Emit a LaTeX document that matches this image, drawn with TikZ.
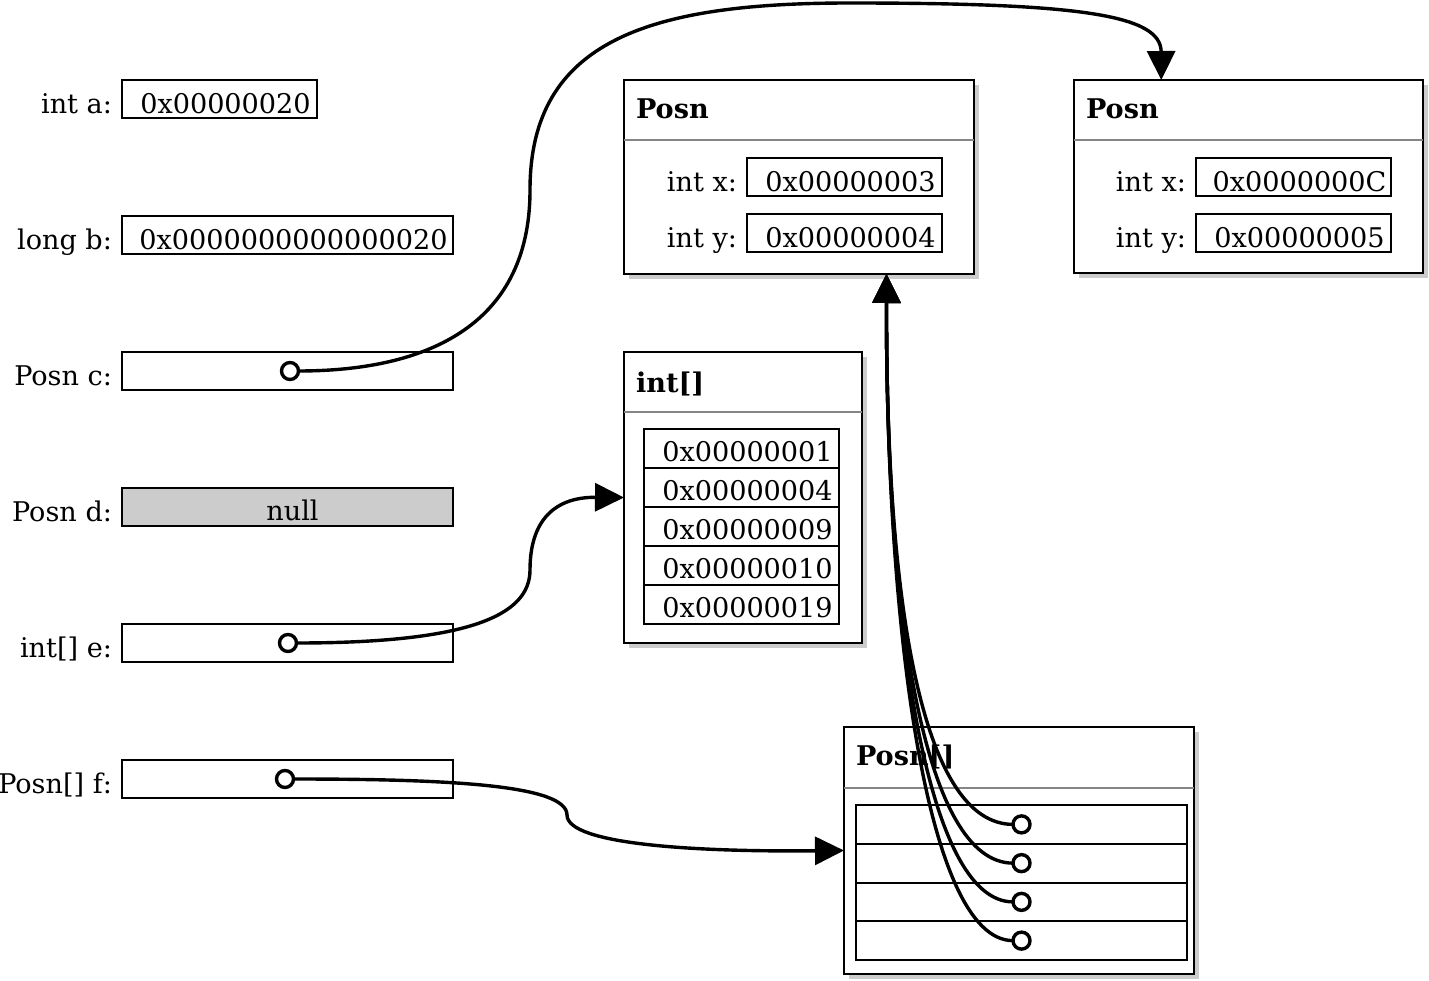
\documentclass[tikz,border=0pt]{standalone}
\usepackage{fontspec}
\setmainfont{DejaVu Serif}
\usetikzlibrary{arrows.meta,shadows,calc}
\definecolor{sepgray}{HTML}{858585}
\definecolor{shgray}{HTML}{CCCCCC}
\definecolor{nullgray}{HTML}{CCCCCC}
\begin{document}
\begin{tikzpicture}[x=1pt,y=-1pt,
  every node/.style={inner sep=0pt, outer sep=0pt, font=\fontsize{27.1}{32}\selectfont},
  box/.style={draw, line width=2pt, anchor=north west, minimum height=38pt},
  obj/.style={draw, line width=2pt, fill=white, anchor=north west,
    drop shadow={shadow xshift=5pt, shadow yshift=-5pt, fill=shgray, opacity=1}},
  sepline/.style={draw=sepgray, line width=2.5pt},
  lbl/.style={anchor=base east},
  val/.style={anchor=base},
  hdr/.style={anchor=base west, font=\fontsize{27.1}{32}\selectfont\bfseries},
  ptr/.style={circle, draw, line width=3.4pt, fill=white, minimum size=17pt},
  conn/.style={line width=3.4pt, -{Triangle[length=29pt,width=28pt]}},
]
\useasboundingbox (0,0) rectangle (1429,981);

% ---------- left column ----------
\node[box, minimum width=195pt] (a) at (122,80) {};
\node[lbl] (al) at ([xshift=-10pt,yshift=-14.5pt]a.west) {int a:};
\node[val] (av) at ([xshift=6pt,yshift=-14.5pt]a.center) {0x00000020};

\node[box, minimum width=331pt] (b) at (122,216) {};
\node[lbl] (bl) at ([xshift=-10pt,yshift=-14.5pt]b.west) {long b:};
\node[val] (bv) at ([xshift=6pt,yshift=-14.5pt]b.center) {0x0000000000000020};

\node[box, minimum width=331pt] (c) at (122,352) {};
\node[lbl] (cl) at ([xshift=-10pt,yshift=-14.5pt]c.west) {Posn c:};

\node[box, minimum width=331pt, fill=nullgray] (d) at (122,488) {};
\node[lbl] (dl) at ([xshift=-10pt,yshift=-14.5pt]d.west) {Posn d:};
\node[val] (dv) at ([xshift=5pt,yshift=-13.5pt]d.center) {null};

\node[box, minimum width=331pt] (e) at (122,624) {};
\node[lbl] (el) at ([xshift=-10pt,yshift=-14.5pt]e.west) {int[] e:};

\node[box, minimum width=331pt] (f) at (122,760) {};
\node[lbl] (fl) at ([xshift=-10pt,yshift=-14.5pt]f.west) {Posn[] f:};

% ---------- Posn object 1 ----------
\node[obj, minimum width=350pt, minimum height=194pt] (p1) at (624,80) {};
\draw[sepline] ($(p1.north west)+(0,60)$) -- ($(p1.north east)+(0,60)$);
\node[hdr] (p1h) at ($(p1.north west)+(12,38.5)$) {Posn};
\node[box, minimum width=195pt] (p1x) at (747,158) {};
\node[lbl] (p1xl) at ([xshift=-10pt,yshift=-14.5pt]p1x.west) {int x:};
\node[val] (p1xv) at ([xshift=6pt,yshift=-14.5pt]p1x.center) {0x00000003};
\node[box, minimum width=195pt] (p1y) at (747,214) {};
\node[lbl] (p1yl) at ([xshift=-10pt,yshift=-14.5pt]p1y.west) {int y:};
\node[val] (p1yv) at ([xshift=6pt,yshift=-14.5pt]p1y.center) {0x00000004};

% ---------- Posn object 2 ----------
\node[obj, minimum width=349pt, minimum height=193pt] (p2) at (1074,80) {};
\draw[sepline] ($(p2.north west)+(0,60)$) -- ($(p2.north east)+(0,60)$);
\node[hdr] (p2h) at ($(p2.north west)+(12,38.5)$) {Posn};
\node[box, minimum width=195pt] (p2x) at (1196,158) {};
\node[lbl] (p2xl) at ([xshift=-10pt,yshift=-14.5pt]p2x.west) {int x:};
\node[val] (p2xv) at ([xshift=6pt,yshift=-14.5pt]p2x.center) {0x0000000C};
\node[box, minimum width=195pt] (p2y) at (1196,214) {};
\node[lbl] (p2yl) at ([xshift=-10pt,yshift=-14.5pt]p2y.west) {int y:};
\node[val] (p2yv) at ([xshift=6pt,yshift=-14.5pt]p2y.center) {0x00000005};

% ---------- int[] object ----------
\node[obj, minimum width=238pt, minimum height=291pt] (arr) at (624,352) {};
\draw[sepline] ($(arr.north west)+(0,60)$) -- ($(arr.north east)+(0,60)$);
\node[hdr] (arrh) at ($(arr.north west)+(12,40)$) {int[]};
\foreach \i/\v in {0/0x00000001,1/0x00000004,2/0x00000009,3/0x00000010,4/0x00000019}{
  \node[box, minimum width=195pt, minimum height=39pt] (ac\i) at (644,{429+39*\i}) {};
  \node[val] (acv\i) at ([xshift=6pt,yshift=-13pt]ac\i.center) {\v};
}

% ---------- Posn[] object ----------
\node[obj, minimum width=350pt, minimum height=247pt] (pa) at (844,727) {};
\draw[sepline] ($(pa.north west)+(0,61)$) -- ($(pa.north east)+(0,61)$);
\node[hdr] (pah) at ($(pa.north west)+(12,38.5)$) {Posn[]};
\foreach \i in {0,1,2,3}{
  \node[box, minimum width=331pt, minimum height=38.75pt] (pc\i) at (856,{805+38.75*\i}) {};
}

% ---------- connectors ----------
\node[ptr] (cp) at (290,371) {};
\node[ptr] (ep) at (288,643) {};
\node[ptr] (fp) at (285,779) {};

\draw[conn] (cp.east) .. controls (420,371) and (530,330) .. (530,190)
  .. controls (530,40) and (650,3) .. (850,3)
  .. controls (1080,3) and (1161,15) .. ($(p2.north west)!0.25!(p2.north east)$);

\draw[conn] (ep.east) .. controls (470,643) and (530,615) .. (530,570)
  .. controls (530,520) and (555,497) .. (arr.west);

\draw[conn] (fp.east) .. controls (450,779) and (567,785) .. (567,815)
  .. controls (567,845) and (700,852) .. (pa.west);

\foreach \i in {0,1,2,3}{
  \node[ptr] (pp\i) at (pc\i.center) {};
  \draw[conn] (pp\i.west) .. controls (925,{824.4+38.75*\i}) and (886,620)
    .. ($(p1.south east)!0.25!(p1.south west)$);
}
\end{tikzpicture}
\end{document}
